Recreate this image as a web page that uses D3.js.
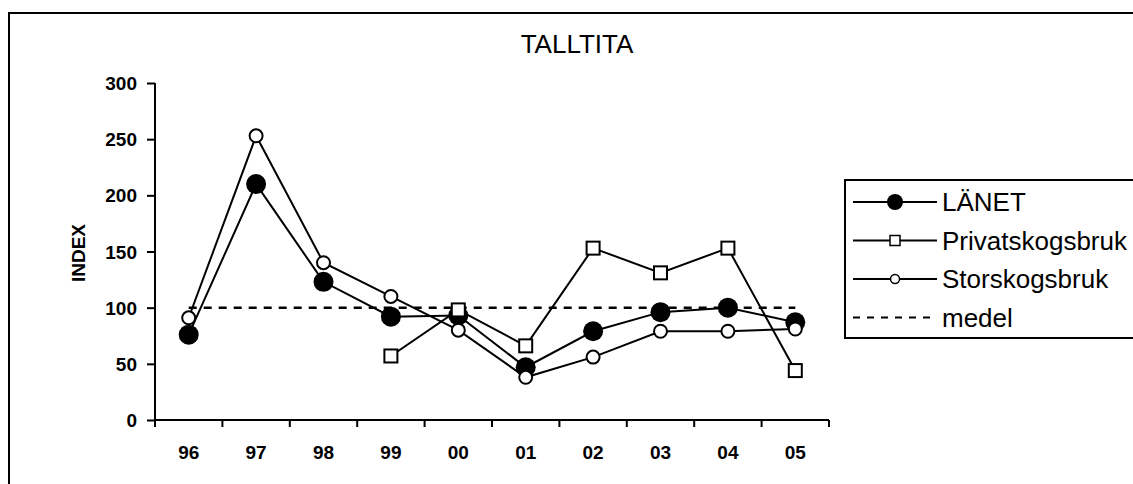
<!DOCTYPE html>
<html lang="en">
<head>
<meta charset="UTF-8">
<title>TALLTITA</title>
<script src="https://d3js.org/d3.v7.min.js"></script>
<style>
  body { margin: 0; background: #fff; }
  svg { display: block; }
  text { font-family: "Liberation Sans", Arial, sans-serif; fill: #000; }
</style>
</head>
<body>
<svg width="1133" height="484"></svg>
<script>
// data
const years = ["96", "97", "98", "99", "00", "01", "02", "03", "04", "05"];
const lanet = [76, 210, 123, 92, 93, 47, 79, 96, 100, 87];
const privat = [null, null, null, 57, 98, 66, 153, 131, 153, 44];
const stor = [91, 253, 140, 110, 80, 38, 56, 79, 79, 81];
const medel = [100, 100, 100, 100, 100, 100, 100, 100, 100, 100];
const yTicks = [0, 50, 100, 150, 200, 250, 300];

let svg = d3.select("svg");

// outer frame (runs off the right and bottom)
svg.append("rect").attr("x", 9).attr("y", 13).attr("width", 1140).attr("height", 490)
    .attr("fill", "none").attr("stroke", "#000").attr("stroke-width", 2);

svg.append("text").attr("x", 577).attr("y", 53).attr("text-anchor", "middle")
    .style("font-size", "26px").text("TALLTITA");

let x = d3.scaleBand().domain(years).range([155, 829]);
let y = d3.scaleLinear().domain([0, 300]).range([420, 83]);

// y axis
let yAxis = svg.append("g").attr("transform", "translate(155,0)")
    .call(d3.axisLeft(y).tickValues(yTicks).tickSize(8).tickPadding(10));
yAxis.selectAll(".tick text")
    .attr("x", -18).attr("dy", "0.35em")
    .style("font-size", "19px").style("font-weight", "bold").style("font-family", "Liberation Sans, Arial, sans-serif");

// x axis, ticks on category boundaries
let xAxis = svg.append("g").attr("transform", "translate(0,420)")
    .call(d3.axisBottom(x).tickSize(0));
xAxis.selectAll(".tick text")
    .attr("y", 39).attr("dy", null)
    .style("font-size", "19px").style("font-weight", "bold").style("font-family", "Liberation Sans, Arial, sans-serif");
xAxis.selectAll(".bound").data(d3.range(years.length + 1)).enter().append("line")
    .attr("class", "bound")
    .attr("x1", i => 155 + i * x.step()).attr("x2", i => 155 + i * x.step())
    .attr("y1", 0).attr("y2", 7);
svg.selectAll(".domain, .tick line, .bound").attr("stroke", "#000").attr("stroke-width", 2);
yAxis.select(".domain").attr("d", "M0,83V420");
xAxis.select(".domain").attr("d", "M155,0H829");

svg.append("text").attr("transform", "translate(85,253) rotate(-90)")
    .attr("text-anchor", "middle").style("font-size", "19px").style("font-weight", "bold")
    .text("INDEX");

const cx = (d, i) => x(years[i]) + x.bandwidth() / 2;
let line = d3.line().defined(d => d != null).x(cx).y(d => y(d));

// medel
svg.append("path").datum(medel).attr("d", line).attr("fill", "none")
    .attr("stroke", "#000").attr("stroke-width", 2.5).attr("stroke-dasharray", "8,7");

function series(vals, marker) {
    svg.append("path").datum(vals).attr("d", line).attr("fill", "none")
        .attr("stroke", "#000").attr("stroke-width", 2);
    let pts = vals.map((v, i) => ({ v, i })).filter(d => d.v != null);
    let g = svg.append("g");
    if (marker === "dot") {
        g.selectAll("circle").data(pts).enter().append("circle")
            .attr("cx", d => cx(d.v, d.i)).attr("cy", d => y(d.v)).attr("r", 10).attr("fill", "#000");
    } else if (marker === "square") {
        g.selectAll("rect").data(pts).enter().append("rect")
            .attr("x", d => cx(d.v, d.i) - 6.5).attr("y", d => y(d.v) - 6.5)
            .attr("width", 13).attr("height", 13)
            .attr("fill", "#fff").attr("stroke", "#000").attr("stroke-width", 2);
    } else {
        g.selectAll("circle").data(pts).enter().append("circle")
            .attr("cx", d => cx(d.v, d.i)).attr("cy", d => y(d.v)).attr("r", 6.5)
            .attr("fill", "#fff").attr("stroke", "#000").attr("stroke-width", 2);
    }
}
series(lanet, "dot");
series(privat, "square");
series(stor, "open");

// legend
let leg = svg.append("g");
leg.append("rect").attr("x", 845).attr("y", 180).attr("width", 300).attr("height", 158)
    .attr("fill", "none").attr("stroke", "#000").attr("stroke-width", 2);
const legItems = [["LÄNET", "dot"], ["Privatskogsbruk", "square"], ["Storskogsbruk", "open"], ["medel", "dash"]];
legItems.forEach((it, k) => {
    let ly = 202 + k * 38.5;
    let l = leg.append("line").attr("x1", 853).attr("x2", 937).attr("y1", ly).attr("y2", ly)
        .attr("stroke", "#000").attr("stroke-width", 2);
    if (it[1] === "dash") l.attr("stroke-dasharray", "7,7");
    if (it[1] === "dot") leg.append("circle").attr("cx", 895).attr("cy", ly).attr("r", 8).attr("fill", "#000");
    if (it[1] === "square") leg.append("rect").attr("x", 890).attr("y", ly - 5).attr("width", 10).attr("height", 10)
        .attr("fill", "#fff").attr("stroke", "#000").attr("stroke-width", 1.5);
    if (it[1] === "open") leg.append("circle").attr("cx", 895).attr("cy", ly).attr("r", 4.5)
        .attr("fill", "#fff").attr("stroke", "#000").attr("stroke-width", 1.5);
    leg.append("text").attr("x", 942).attr("y", ly + 9).style("font-size", "26px").text(it[0]);
});
</script>
</body>
</html>
